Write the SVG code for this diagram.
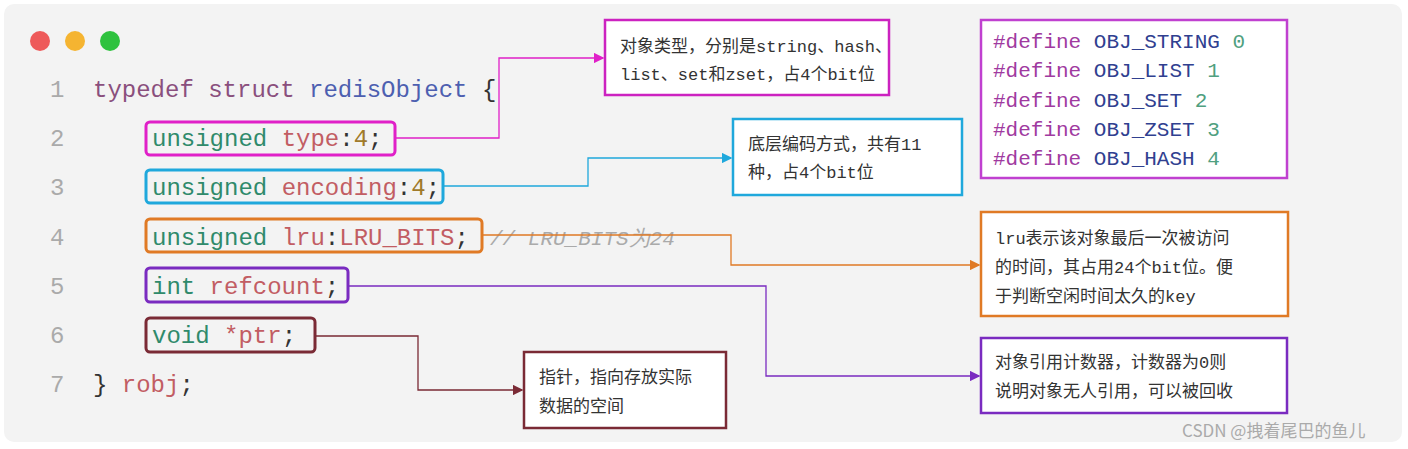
<svg xmlns="http://www.w3.org/2000/svg" width="1408" height="449" viewBox="0 0 1408 449">
<defs>
<style>
.code{font-family:"Liberation Mono","DejaVu Sans Mono",monospace;font-size:24px}
.num{fill:#aaaaaa}
.kw{fill:#8a4f7d}.ty{fill:#2f8a6b}.fd{fill:#c25d63}.n{fill:#a07a2a}.p{fill:#333}.bl{fill:#4d5fb0}
.def{font-family:"Liberation Mono","DejaVu Sans Mono",monospace;font-size:21px}
.lbl{font-family:"Liberation Mono","Noto Sans CJK SC",monospace;font-size:17px;fill:#333}
.box{fill:#fff;stroke-width:2.5}
.cn{fill:none;stroke-width:1.3}
</style>
<marker id="mM" markerWidth="8" markerHeight="8" refX="7" refY="4" orient="auto"><path d="M0,0L8,4L0,8z" fill="#e020c8"/></marker>
<marker id="mC" markerWidth="8" markerHeight="8" refX="7" refY="4" orient="auto"><path d="M0,0L8,4L0,8z" fill="#1fa8dc"/></marker>
<marker id="mO" markerWidth="8" markerHeight="8" refX="7" refY="4" orient="auto"><path d="M0,0L8,4L0,8z" fill="#e07a25"/></marker>
<marker id="mP" markerWidth="8" markerHeight="8" refX="7" refY="4" orient="auto"><path d="M0,0L8,4L0,8z" fill="#7a2bc0"/></marker>
<marker id="mR" markerWidth="8" markerHeight="8" refX="7" refY="4" orient="auto"><path d="M0,0L8,4L0,8z" fill="#7a2a35"/></marker>
</defs>
<rect width="1408" height="449" fill="#fff"/>
<rect x="4" y="4" width="1398" height="438" rx="10" fill="#f3f3f3"/>
<circle cx="40" cy="41" r="10" fill="#ee5a5a"/>
<circle cx="75" cy="41" r="10" fill="#f5b431"/>
<circle cx="110" cy="41" r="10" fill="#2ec23e"/>
<g id="code" class="code">
<text x="50" y="97" class="num">1</text><text x="50" y="146" class="num">2</text><text x="50" y="195" class="num">3</text><text x="50" y="245" class="num">4</text><text x="50" y="294" class="num">5</text><text x="50" y="343" class="num">6</text><text x="50" y="392" class="num">7</text>
<text x="93" y="97"><tspan class="kw">typedef struct </tspan><tspan class="bl">redisObject</tspan><tspan class="p"> {</tspan></text>
<text x="152" y="146"><tspan class="ty">unsigned </tspan><tspan class="fd">type</tspan><tspan class="p">:</tspan><tspan class="n">4</tspan><tspan class="p">;</tspan></text>
<text x="152" y="195"><tspan class="ty">unsigned </tspan><tspan class="fd">encoding</tspan><tspan class="p">:</tspan><tspan class="n">4</tspan><tspan class="p">;</tspan></text>
<text x="152" y="245"><tspan class="ty">unsigned </tspan><tspan class="fd">lru</tspan><tspan class="p">:</tspan><tspan class="fd">LRU_BITS</tspan><tspan class="p">;</tspan></text>
<text x="490" y="245" font-style="italic" fill="#aaa" font-size="21">// LRU_BITS为24</text>
<text x="152" y="294"><tspan class="ty">int </tspan><tspan class="fd">refcount</tspan><tspan class="p">;</tspan></text>
<text x="152" y="343"><tspan class="ty">void </tspan><tspan class="fd">*ptr</tspan><tspan class="p">;</tspan></text>
<text x="93" y="392"><tspan class="p">} </tspan><tspan class="fd">robj</tspan><tspan class="p">;</tspan></text>
</g>
<g id="hl" fill="none" stroke-width="3">
<rect x="146" y="122" width="249" height="33" rx="4" stroke="#e020c8"/>
<rect x="146" y="170" width="297" height="33" rx="4" stroke="#1fa8dc"/>
<rect x="146" y="219" width="336" height="33" rx="4" stroke="#e07a25"/>
<rect x="146" y="268" width="202" height="34" rx="4" stroke="#7a2bc0"/>
<rect x="146" y="318" width="169" height="34" rx="4" stroke="#7a2a35"/>
</g>
<g id="connectors">
<path class="cn" d="M395,138H499V58H603" stroke="#e020c8" marker-end="url(#mM)"/>
<path class="cn" d="M443,186H588V158H731" stroke="#1fa8dc" marker-end="url(#mC)"/>
<path class="cn" d="M482,235H731V265H979" stroke="#e07a25" marker-end="url(#mO)"/>
<path class="cn" d="M348,286H766V376H979" stroke="#7a2bc0" marker-end="url(#mP)"/>
<path class="cn" d="M315,336H418V390H522" stroke="#7a2a35" marker-end="url(#mR)"/>
</g>
<g id="n-type"><rect class="box" x="605" y="20" width="284" height="75" stroke="#cc22c0"/>
<text class="lbl" x="620" y="52">对象类型，分别是string、hash、</text><text class="lbl" x="620" y="80">list、set和zset，占4个bit位</text></g>
<g id="n-enc"><rect class="box" x="733" y="119" width="229" height="76" stroke="#1fa8dc"/>
<text class="lbl" x="748" y="150">底层编码方式，共有11</text><text class="lbl" x="748" y="178">种，占4个bit位</text></g>
<g id="n-def"><rect class="box" x="981" y="20" width="306" height="158" stroke="#c040d0" stroke-width="1.5"/>
<g class="def">
<text x="993" y="48"><tspan fill="#a03aa0">#define </tspan><tspan fill="#304090">OBJ_STRING </tspan><tspan fill="#50a080">0</tspan></text>
<text x="993" y="77"><tspan fill="#a03aa0">#define </tspan><tspan fill="#304090">OBJ_LIST </tspan><tspan fill="#50a080">1</tspan></text>
<text x="993" y="107"><tspan fill="#a03aa0">#define </tspan><tspan fill="#304090">OBJ_SET </tspan><tspan fill="#50a080">2</tspan></text>
<text x="993" y="136"><tspan fill="#a03aa0">#define </tspan><tspan fill="#304090">OBJ_ZSET </tspan><tspan fill="#50a080">3</tspan></text>
<text x="993" y="165"><tspan fill="#a03aa0">#define </tspan><tspan fill="#304090">OBJ_HASH </tspan><tspan fill="#50a080">4</tspan></text>
</g></g>
<g id="n-lru"><rect class="box" x="981" y="212" width="307" height="104" stroke="#e07a25"/>
<text class="lbl" x="995" y="244">lru表示该对象最后一次被访问</text><text class="lbl" x="995" y="273">的时间，其占用24个bit位。便</text><text class="lbl" x="995" y="302">于判断空闲时间太久的key</text></g>
<g id="n-ref"><rect class="box" x="981" y="338" width="306" height="75" stroke="#7a2bc0"/>
<text class="lbl" x="995" y="368">对象引用计数器，计数器为0则</text><text class="lbl" x="995" y="397">说明对象无人引用，可以被回收</text></g>
<g id="n-ptr"><rect class="box" x="524" y="352" width="202" height="76" stroke="#7a2a35"/>
<text class="lbl" x="539" y="383">指针，指向存放实际</text><text class="lbl" x="539" y="412">数据的空间</text></g>
<text x="1182" y="437" font-family="Noto Sans CJK SC,sans-serif" font-size="17" fill="#aaa">CSDN @拽着尾巴的鱼儿</text>
</svg>
